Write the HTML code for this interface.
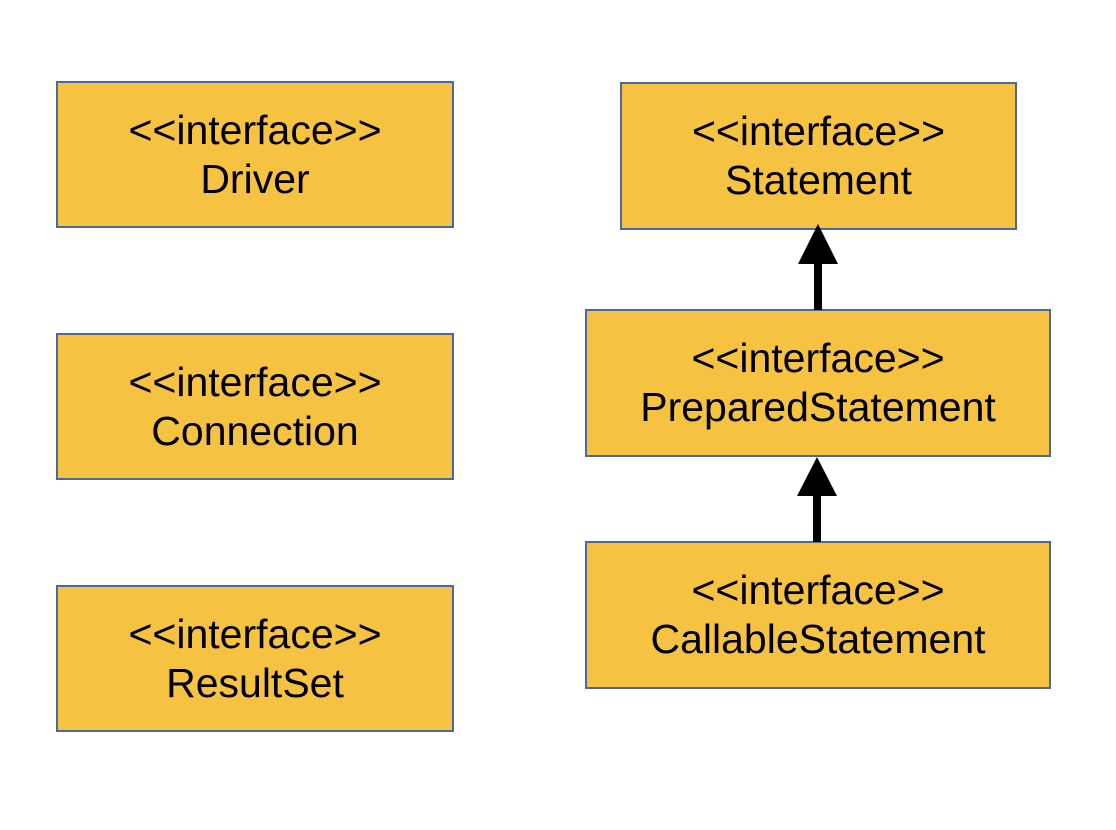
<!DOCTYPE html>
<html><head><style>
body{margin:0;width:1116px;height:830px;background:#fff;position:relative;overflow:hidden;font-family:"Liberation Sans",Arial,sans-serif}
.b{position:absolute;box-sizing:border-box;background:#F5C242;border:2px solid #4F67A0;display:flex;flex-direction:column;justify-content:center;align-items:center;font-size:41px;line-height:49px;color:#000}
</style></head><body>
<div class="b" style="left:56px;top:81px;width:398px;height:147px"><div>&lt;&lt;interface&gt;&gt;</div><div>Driver</div></div>
<div class="b" style="left:56px;top:333px;width:398px;height:147px"><div>&lt;&lt;interface&gt;&gt;</div><div>Connection</div></div>
<div class="b" style="left:56px;top:585px;width:398px;height:147px"><div>&lt;&lt;interface&gt;&gt;</div><div>ResultSet</div></div>
<div class="b" style="left:620px;top:82px;width:397px;height:148px"><div>&lt;&lt;interface&gt;&gt;</div><div>Statement</div></div>
<div class="b" style="left:585px;top:309px;width:466px;height:148px"><div>&lt;&lt;interface&gt;&gt;</div><div>PreparedStatement</div></div>
<div class="b" style="left:585px;top:541px;width:466px;height:148px"><div>&lt;&lt;interface&gt;&gt;</div><div>CallableStatement</div></div>
<svg width="1116" height="830" style="position:absolute;left:0;top:0">
<rect x="814" y="262" width="8" height="48" fill="#000"/>
<polygon points="818,224 838,264 798,264" fill="#000"/>
<rect x="813" y="494" width="8" height="48" fill="#000"/>
<polygon points="817,457 837,496 797,496" fill="#000"/>
</svg>
</body></html>
